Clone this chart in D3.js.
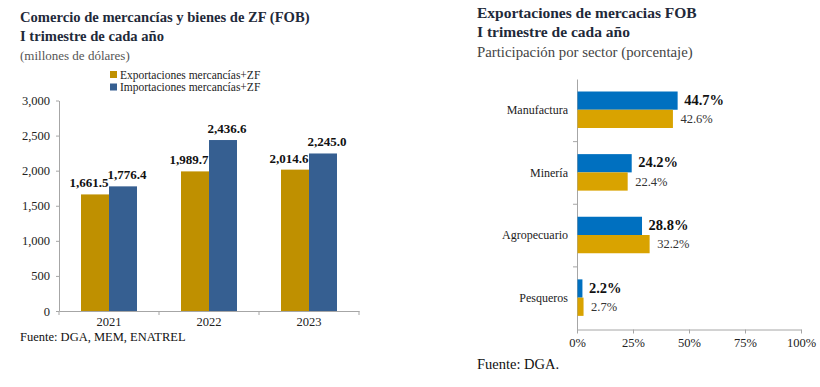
<!DOCTYPE html>
<html>
<head>
<meta charset="utf-8">
<script src="https://cdn.jsdelivr.net/npm/d3@7"></script>
<style>
  body { margin: 0; background: #fff; }
  svg text { font-family: "Liberation Serif", "Times New Roman", "DejaVu Serif", serif !important; }
  .ttl { font-weight: bold; fill: #1f2a3a; }
  .axis path, .axis line { stroke: #a6a6a6; }
  .axis text { fill: #222; }
</style>
</head>
<body>
<div id="chart"></div>
<script>
// left chart: comercio
var years = ['2021', '2022', '2023'];
var seriesNames = ['Exportaciones mercancías+ZF', 'Importaciones mercancías+ZF'];
var exportVals = [1661.5, 1989.7, 2014.6];
var importVals = [1776.4, 2436.6, 2245.0];
var yTicks = [0, 500, 1000, 1500, 2000, 2500, 3000];

// right chart: participacion por sector
var sectors = ['Manufactura', 'Minería', 'Agropecuario', 'Pesqueros'];
var shareA = [44.7, 24.2, 28.8, 2.2];
var shareB = [42.6, 22.4, 32.2, 2.7];
var xTicks = [0, 25, 50, 75, 100];

var svg = d3.select('#chart').append('svg')
    .attr('width', 820)
    .attr('height', 387);

// ---------- left ----------
var colL = ['#bf9000', '#365f91'];

svg.append('text').attr('class', 'ttl').attr('x', 20).attr('y', 22)
  .style('font-size', '14.6px').text('Comercio de mercancías y bienes de ZF (FOB)');
svg.append('text').attr('class', 'ttl').attr('x', 20).attr('y', 41)
  .style('font-size', '14.6px').text('I trimestre de cada año');
svg.append('text').attr('x', 20).attr('y', 60).style('fill', '#555')
  .style('font-size', '13px').text('(millones de dólares)');

var leg = svg.append('g').attr('transform', 'translate(110,71)');
seriesNames.forEach(function(n, i){
  leg.append('rect').attr('x', 0).attr('y', i * 12.5).attr('width', 7).attr('height', 7)
    .attr('fill', colL[i]);
  leg.append('text').attr('x', 10).attr('y', i * 12.5 + 7.5)
    .style('font-size', '11.5px').style('fill', '#222').text(n);
});

var gL = svg.append('g').attr('transform', 'translate(59,0)');
var wL = 300;

var x0 = d3.scaleBand().domain(years).range([0, wL]).paddingInner(0).paddingOuter(0);
var x1 = d3.scaleBand().domain([0, 1]).range([22, 78]);
var yL = d3.scaleLinear().domain([0, 3000]).range([311, 100.5]);

gL.append('g').attr('class', 'axis')
  .call(d3.axisLeft(yL).tickValues(yTicks).tickFormat(d3.format(',')).tickSize(3).tickSizeOuter(0))
  .selectAll('text').style('font-size', '12.5px').attr('dx', '-3');

var xa = gL.append('g').attr('class', 'axis').attr('transform', 'translate(0,311)')
  .call(d3.axisBottom(x0).tickSize(0).tickSizeOuter(0));
xa.selectAll('text').style('font-size', '12.5px').attr('dy', '12');
xa.selectAll('.sep').data(d3.range(years.length + 1)).enter().append('line')
  .attr('x1', function(d){ return d * x0.step(); })
  .attr('x2', function(d){ return d * x0.step(); })
  .attr('y1', 0).attr('y2', 4).attr('stroke', '#a6a6a6');

var rowsL = years.map(function(y, i){ return {year: y, vals: [exportVals[i], importVals[i]]}; });
var grp = gL.selectAll('.yr').data(rowsL).enter().append('g')
  .attr('transform', function(d){ return 'translate(' + x0(d.year) + ',0)'; });

grp.selectAll('rect').data(function(d){ return d.vals; }).enter().append('rect')
  .attr('x', function(d, i){ return x1(i); })
  .attr('width', x1.bandwidth())
  .attr('y', function(d){ return yL(d); })
  .attr('height', function(d){ return 311 - yL(d); })
  .attr('fill', function(d, i){ return colL[i]; });

grp.selectAll('.lbl').data(function(d){ return d.vals; }).enter().append('text')
  .attr('x', function(d, i){ return x1(i) + x1.bandwidth() / 2 - (i === 0 ? 6 : -4); })
  .attr('y', function(d){ return yL(d) - 7; })
  .attr('text-anchor', 'middle')
  .style('font-size', '13px').style('font-weight', 'bold').style('fill', '#111')
  .text(function(d){ return d3.format(',.1f')(d); });

svg.append('text').attr('x', 20).attr('y', 341).style('font-size', '12.5px').style('fill', '#111')
  .text('Fuente: DGA, MEM, ENATREL');

// ---------- right ----------
var colR = ['#0070c0', '#d9a300'];

svg.append('text').attr('class', 'ttl').attr('x', 477).attr('y', 18)
  .style('font-size', '15.5px').text('Exportaciones de mercacias FOB');
svg.append('text').attr('class', 'ttl').attr('x', 477).attr('y', 37)
  .style('font-size', '15.5px').text('I trimestre de cada año');
svg.append('text').attr('x', 477).attr('y', 57).style('fill', '#444')
  .style('font-size', '14.8px').text('Participación por sector (porcentaje)');

var gR = svg.append('g').attr('transform', 'translate(577,0)');
var xR = d3.scaleLinear().domain([0, 100]).range([0, 224]);
var yR = d3.scaleBand().domain(sectors).range([79, 329.5]);
var y1 = d3.scaleBand().domain([0, 1]).range([12.5, 49]);

var ya = gR.append('g').attr('class', 'axis')
  .call(d3.axisLeft(yR).tickSize(0).tickSizeOuter(0));
ya.selectAll('text').style('font-size', '12px').attr('dx', '-6');
ya.selectAll('.sep').data(d3.range(1, sectors.length)).enter().append('line')
  .attr('x1', -4).attr('x2', 0)
  .attr('y1', function(d){ return 79 + d * yR.step(); })
  .attr('y2', function(d){ return 79 + d * yR.step(); })
  .attr('stroke', '#a6a6a6');

gR.append('g').attr('class', 'axis').attr('transform', 'translate(0,329.5)')
  .call(d3.axisBottom(xR).tickValues(xTicks).tickFormat(function(d){ return d + '%'; }).tickSize(4).tickSizeOuter(0))
  .selectAll('text').style('font-size', '12.5px').attr('dy', '10');

var rowsR = sectors.map(function(s, i){ return {sector: s, vals: [shareA[i], shareB[i]]}; });
var grpR = gR.selectAll('.sec').data(rowsR).enter().append('g')
  .attr('transform', function(d){ return 'translate(0,' + yR(d.sector) + ')'; });

grpR.selectAll('rect').data(function(d){ return d.vals; }).enter().append('rect')
  .attr('x', 0.5)
  .attr('y', function(d, i){ return y1(i); })
  .attr('width', function(d){ return xR(d); })
  .attr('height', y1.bandwidth())
  .attr('fill', function(d, i){ return colR[i]; });

grpR.selectAll('.lbl').data(function(d){ return d.vals; }).enter().append('text')
  .attr('x', function(d, i){ return xR(d) + (i === 0 ? 7 : 8); })
  .attr('y', function(d, i){ return y1(i) + y1.bandwidth() / 2 + (i === 0 ? 4 : 4); })
  .style('font-size', function(d, i){ return i === 0 ? '14.5px' : '12.5px'; })
  .style('font-weight', function(d, i){ return i === 0 ? 'bold' : 'normal'; })
  .style('fill', function(d, i){ return i === 0 ? '#111' : '#333'; })
  .text(function(d){ return d3.format('.1f')(d) + '%'; });

svg.append('text').attr('x', 477).attr('y', 369).style('font-size', '14.5px').style('fill', '#111')
  .text('Fuente: DGA.');
</script>
</body>
</html>
